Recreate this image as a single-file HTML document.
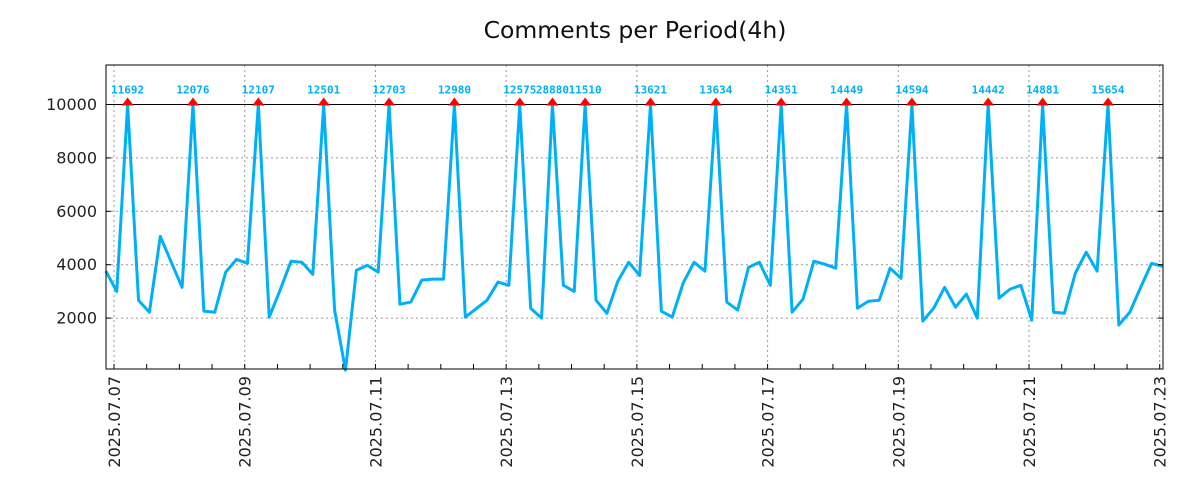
<!DOCTYPE html>
<html><head><meta charset="utf-8"><style>
body{margin:0;background:#fff;}
svg{display:block;font-family:"DejaVu Sans","Liberation Sans",sans-serif;}
</style></head><body>
<svg id="chart" width="1200" height="500" xmlns="http://www.w3.org/2000/svg">
<text x="635" y="38" font-size="23.5" text-anchor="middle" fill="#111">Comments per Period(4h)</text>
<g id="grid"></g><g id="series"></g><g id="axes"></g>
</svg>
<script>
const startHour = -3;
const stepHours = 4;
const values = [3760,3000,11692,2670,2220,5060,4100,3150,12076,2260,2220,3720,4200,4050,12107,2040,3050,4130,4090,3640,12501,2300,50,3790,3980,3720,12703,2520,2600,3420,3460,3460,12980,2040,2350,2670,3350,3230,12575,2370,2000,28880,3230,3000,11510,2670,2180,3380,4090,3600,13621,2260,2040,3310,4090,3760,13634,2600,2300,3900,4090,3230,14351,2220,2710,4130,4020,3870,14449,2370,2630,2670,3870,3490,14594,1890,2370,3150,2410,2900,2000,14442,2750,3080,3230,1920,14881,2220,2180,3680,4470,3760,15654,1740,2220,3150,4050,3940];
const yTicks = [2000,4000,6000,8000,10000];
const xTickLabels = ["2025.07.07","2025.07.09","2025.07.11","2025.07.13","2025.07.15","2025.07.17","2025.07.19","2025.07.21","2025.07.23"];
const threshold = 10000;

const L=106,R=1163,T=65,B=369;
const xMin=-2.94,xMax=385.2,yMin=93,yMax=11480;
const X=h=>L+(h-xMin)/(xMax-xMin)*(R-L);
const Y=v=>B-(v-yMin)/(yMax-yMin)*(B-T);
const NS="http://www.w3.org/2000/svg";
function mk(tag,attrs,parent){const e=document.createElementNS(NS,tag);for(const k in attrs)e.setAttribute(k,attrs[k]);parent.appendChild(e);return e;}
const grid=document.getElementById('grid'),series=document.getElementById('series'),axes=document.getElementById('axes');

yTicks.forEach(v=>{
  const y=Y(v);
  if(v!==threshold){const g=mk('line',{x1:L,x2:R,y1:y,y2:y,stroke:'#999','stroke-dasharray':'2,3'},grid);
  
  }
  mk('line',{x1:L,x2:L+5,y1:y,y2:y,stroke:'#000'},axes);
  mk('line',{x1:R,x2:R-5,y1:y,y2:y,stroke:'#000'},axes);
  const t=mk('text',{x:97,y:y+5.5,'font-size':16,'text-anchor':'end',fill:'#222'},axes);
  
  
  t.textContent=v;
});
const thr=mk('line',{x1:L,x2:R,y1:Y(threshold),y2:Y(threshold),stroke:'#000','stroke-width':1},grid);



for(let d=0;d<=16;d+=0.5){
  const x=X(d*24);
  mk('line',{x1:x,x2:x,y1:B,y2:B-5,stroke:'#000'},axes);
}
xTickLabels.forEach((lab,i)=>{
  const x=X(i*48);
  const g=mk('line',{x1:x,x2:x,y1:T,y2:B,stroke:'#999','stroke-dasharray':'2,3'},grid);
  
  
  const t=mk('text',{x:0,y:0,'font-size':16,'text-anchor':'end',fill:'#222',transform:`translate(${x+6},376) rotate(-90)`},axes);
  
  
  t.textContent=lab;
});
const frame=mk('rect',{x:L,y:T,width:R-L,height:B-T,fill:'none',stroke:'#000','stroke-width':1},axes);



const pts=values.map((v,i)=>[X(startHour+i*stepHours),Y(Math.min(v,threshold))]);
const line=mk('polyline',{points:pts.map(p=>p.join(',')).join(' '),fill:'none',stroke:'#00b0f6','stroke-width':3,'stroke-linejoin':'round'},series);


values.forEach((v,i)=>{
  if(v>threshold){
    const x=X(startHour+i*stepHours),y=Y(threshold);
    const m=mk('polygon',{points:`${x-6},${y+1} ${x+6},${y+1} ${x},${y-7}`,fill:'#f00'},series);
    
    
    const t=mk('text',{x:x,y:y-11,'font-size':11,'font-weight':'bold','text-anchor':'middle',fill:'#00b0f6','font-family':'DejaVu Sans Mono, Liberation Mono, monospace'},series);
    
    
    t.textContent=v;
  }
});
</script>
</body></html>
